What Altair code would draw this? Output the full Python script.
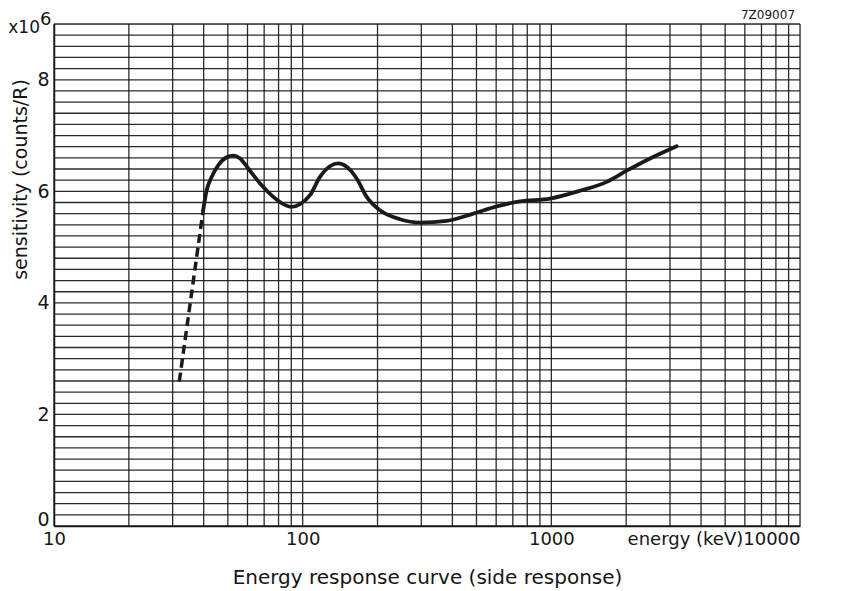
import altair as alt
import pandas as pd

# dashed (extrapolated) low-energy part
dash_energy = [31.9, 39.8]
dash_sens = [2.59, 5.66]

# measured curve
curve_energy = [39.8, 41.1, 43.1, 45.8, 49.5, 52.6, 56.0, 60.4, 67.4, 76.2, 83.6, 90.3,
                97.6, 107.0, 117.4, 128.8, 139.1, 150.3, 164.9, 180.9, 204.6, 246.3,
                296.5, 379.6, 485.6, 603.0, 748.0, 987.6, 1304.0, 1670.0, 2009.0, 2494.0, 3193.0]
curve_sens = [5.66, 6.02, 6.26, 6.47, 6.61, 6.64, 6.59, 6.41, 6.14, 5.90, 5.77, 5.72,
              5.77, 5.93, 6.26, 6.45, 6.50, 6.44, 6.23, 5.90, 5.66, 5.50,
              5.44, 5.47, 5.60, 5.73, 5.82, 5.87, 6.01, 6.17, 6.37, 6.59, 6.81]

x_ticks = [10, 100, 1000, 10000]
y_ticks = [0, 2, 4, 6, 8]
x_grid = [m * d for d in (10, 100, 1000) for m in range(1, 10)] + [10000]
y_grid = [round(k * 0.2, 1) for k in range(46)]

FONT = "DejaVu Sans"
INK = "#151515"

dash_df = pd.DataFrame({"energy": dash_energy, "sens": dash_sens})
curve_df = pd.DataFrame({"energy": curve_energy, "sens": curve_sens})
xg_df = pd.DataFrame({"energy": x_grid})
yg_df = pd.DataFrame({"sens": y_grid})

x_enc = alt.X(
    "energy:Q",
    scale=alt.Scale(type="log", domain=[10, 10000], nice=False),
    axis=alt.Axis(
        values=x_ticks,
        format="d",
        labelExpr="datum.value == 10000 ? 'energy (keV)10000' : datum.label",
        labelAlign={"condition": {"test": "datum.value >= 10000", "value": "right"}, "value": "center"},
        labelOverlap=False,
        labelFont=FONT, labelFontSize=18, labelColor=INK,
        labelPadding=4,
        ticks=False, grid=False,
        domainColor=INK, domainWidth=1.5,
        title="Energy response curve (side response)",
        titleFont=FONT, titleFontSize=20, titleFontWeight="normal", titleColor=INK,
        titleY=51, titleBaseline="middle",
    ),
)
y_enc = alt.Y(
    "sens:Q",
    scale=alt.Scale(domain=[0, 9], nice=False),
    axis=alt.Axis(
        values=y_ticks,
        format="d",
        labelOffset={"condition": {"test": "datum.value == 0", "value": -7}, "value": 0},
        labelOverlap=False,
        labelFont=FONT, labelFontSize=19, labelColor=INK,
        labelPadding=5,
        ticks=False, grid=False,
        domainColor=INK, domainWidth=1.5,
        title="sensitivity (counts/R)",
        titleFont=FONT, titleFontSize=19, titleFontWeight="normal", titleColor=INK,
        titleX=-34, titleY=155, titleBaseline="middle", titleAlign="center",
    ),
)

xgrid = alt.Chart(xg_df).mark_rule(color=INK, strokeWidth=1.3, opacity=0.9).encode(x=x_enc)
ygrid = alt.Chart(yg_df).mark_rule(color=INK, strokeWidth=1.3, opacity=0.9).encode(y=y_enc)

dashed = alt.Chart(dash_df).mark_line(
    color="#1a1a1a", strokeWidth=3.5, strokeDash=[9, 5]
).encode(x="energy:Q", y="sens:Q")

solid = alt.Chart(curve_df).mark_line(
    color="#1a1a1a", strokeWidth=3.8, interpolate="monotone", strokeCap="round"
).encode(x="energy:Q", y="sens:Q")

one = pd.DataFrame({"a": [0]})
mult = alt.Chart(one).mark_text(
    text="x10", font=FONT, fontSize=17, align="right", baseline="alphabetic", color=INK
).encode(x=alt.value(-14), y=alt.value(9))
expo = alt.Chart(one).mark_text(
    text="6", font=FONT, fontSize=18, align="left", baseline="alphabetic", color=INK
).encode(x=alt.value(-14), y=alt.value(1))
code = alt.Chart(one).mark_text(
    text="7Z09007", font=FONT, fontSize=12, align="center", baseline="middle", color=INK
).encode(x=alt.value(714), y=alt.value(-9))

chart = alt.layer(xgrid, ygrid, dashed, solid, mult, expo, code).properties(
    width=746, height=502,
    autosize=alt.AutoSizeParams(type="none"),
    padding={"left": 46, "top": 16, "right": 30, "bottom": 64},
).configure_view(
    stroke=INK, strokeWidth=1.5
).configure(background="white")

chart.save("out.html", embed_options={"renderer": "svg", "actions": False})
